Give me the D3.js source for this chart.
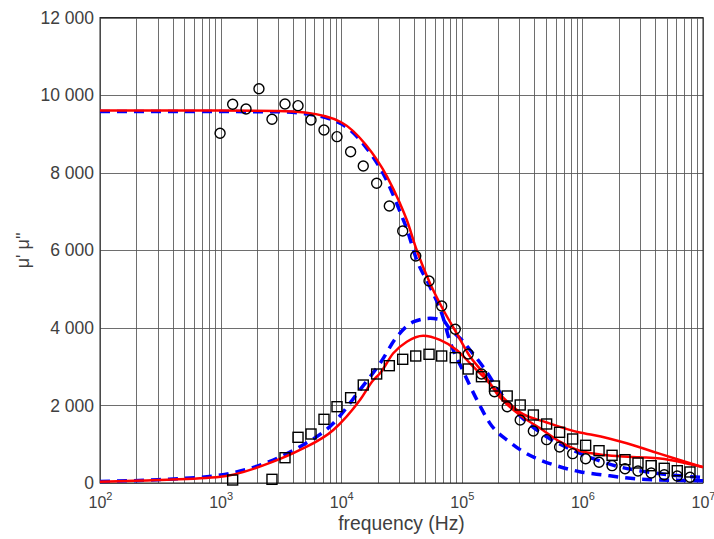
<!DOCTYPE html>
<html lang="en">
<head>
<meta charset="UTF-8">
<script src="https://cdnjs.cloudflare.com/ajax/libs/d3/7.8.5/d3.min.js"></script>
<style>
  body { margin: 0; background: #fff; }
  text { font-family: "Liberation Sans", Arial, sans-serif; fill: #404040; }
</style>
</head>
<body>
<svg id="chart" width="714" height="539"></svg>
<script>
// measured points (shared frequencies), null = no marker
const freq = [990, 1259, 1625, 2080, 2667, 3420, 4385, 5620, 7200, 9230,
  11970, 15240, 19680, 25060, 32360, 41500, 53500, 68100, 88300, 113000,
  145600, 186600, 238000, 305000, 392000, 505000, 647000, 830000, 1064000, 1374000,
  1762000, 2256000, 2890000, 3720000, 4770000, 6120000, 7800000];
const muReal = [9015, 9763, 9642, 10165, 9376, 9771, 9727, 9358, 9100, 8928,
  8541, 8172, 7726, 7141, 6497, 5852, 5207, 4563, 3962, 3326,
  2810, 2354, 1967, 1624, 1340, 1117, 928, 756, 627, 533,
  447, 369, 309, 258, 214, 180, 147];
const muImag = [null, 77, null, null, 95, 652, 1178, 1263, 1642, 1967,
  2199, 2526, 2810, 3024, 3189, 3274, 3318, 3274, 3231, 2939,
  2740, 2500, 2243, 2011, 1753, 1521, 1307, 1134, 972, 833,
  714, 601, 516, 446, 379, 317, 284];

// fitted curves (red solid)
const redRealF = [1e2, 1e3, 3e3, 5e3, 1e4, 1.6e4, 2.4e4, 3.07e4, 3.5e4, 4.23e4,
  5.45e4, 7.03e4, 9.07e4, 1.17e5, 1.51e5, 1.95e5, 3.04e5, 4.46e5, 6.5e5, 9.5e5,
  1.4e6, 2.05e6, 3e6, 4.4e6, 5.3e6, 7.9e6, 1e7];
const redRealV = [9600, 9600, 9590, 9550, 9300, 8720, 7900, 7210, 6780, 6000,
  5150, 4460, 3860, 3260, 2830, 2310, 1750, 1410, 1065, 830,
  735, 690, 662, 630, 593, 482, 410];
const redImagF = [1e2, 3e2, 1e3, 2.73e3, 4.55e3, 8.6e3, 1.43e4, 1.85e4, 2.1e4, 2.7e4,
  3.5e4, 4.79e4, 6.59e4, 9.07e4, 1.17e5, 1.51e5, 2e5, 3.04e5, 5.06e5, 9.5e5,
  1.23e6, 2.33e6, 3.87e6, 6.3e6, 1e7];
const redImagV = [35, 75, 160, 549, 851, 1366, 2140, 2655, 2828, 3344,
  3643, 3797, 3687, 3429, 3086, 2740, 2330, 1820, 1560, 1300,
  1237, 1023, 807, 600, 405];

// fitted curves (blue dashed)
const blueRealF = [1e2, 3e3, 5e3, 1e4, 1.6e4, 2.4e4, 3.07e4, 3.5e4, 4.23e4, 5.45e4,
  6.95e4, 7.9e4, 1.02e5, 1.41e5, 1.7e5, 2.51e5, 3.04e5, 4.46e5, 6.5e5, 9.5e5,
  1.5e6, 2.5e6, 3.9e6, 1e7];
const blueRealV = [9580, 9570, 9520, 9260, 8660, 7780, 7000, 6550, 5750, 5060,
  4290, 3690, 2900, 2000, 1550, 1050, 860, 593, 420, 291,
  206, 121, 85, 60];
const blueImagF = [1e2, 3e2, 1e3, 2.73e3, 4.55e3, 8.6e3, 1.43e4, 2.1e4, 2.9e4, 4e4,
  5.45e4, 6.9e4, 8e4, 1e5, 1.17e5, 1.5e5, 2.1e5, 3e5, 5.06e5, 8.5e5,
  1.3e6, 2e6, 3.2e6, 5e6, 1e7];
const blueImagV = [40, 85, 206, 593, 936, 1539, 2400, 3086, 3772, 4159,
  4245, 4202, 3960, 3687, 3429, 2998, 2312, 1750, 1194, 833,
  600, 420, 300, 220, 140];

const xTicks = [1e2, 1e3, 1e4, 1e5, 1e6, 1e7];
const yTicks = [0, 2000, 4000, 6000, 8000, 10000, 12000];

const svg = d3.select('#chart');
const mLeft = 100, mRight = 703, mTop = 17.5, mBottom = 483;

const x = d3.scaleLog().domain([1e2, 1e7]).range([mLeft, mRight]);
const y = d3.scaleLinear().domain([0, 12000]).range([mBottom, mTop]);

const fmt = d3.formatLocale({decimal: '.', thousands: ' ', grouping: [3], currency: ['', '']}).format(',d');

// grid
const grid = svg.append('g').attr('stroke', '#555').attr('stroke-opacity', 0.85).attr('stroke-width', 1);
grid.selectAll('.vg').data(x.ticks()).enter().append('line')
    .attr('x1', d => Math.round(x(d)) + 0.5).attr('x2', d => Math.round(x(d)) + 0.5)
    .attr('y1', mTop).attr('y2', mBottom);
grid.selectAll('.hg').data(yTicks).enter().append('line')
    .attr('x1', mLeft).attr('x2', mRight)
    .attr('y1', d => Math.round(y(d)) + 0.5).attr('y2', d => Math.round(y(d)) + 0.5);

// axes
const yAxis = svg.append('g').attr('transform', `translate(${mLeft},0)`)
    .call(d3.axisLeft(y).tickValues(yTicks).tickSize(0).tickPadding(6).tickFormat(fmt));
yAxis.select('.domain').remove();
yAxis.selectAll('text').style('font-size', '17.5px').attr('fill', '#404040');

const xAxis = svg.append('g').attr('transform', `translate(0,${mBottom})`)
    .call(d3.axisBottom(x).tickValues(xTicks).tickSize(0).tickFormat(() => ''));
xAxis.select('.domain').remove();
xAxis.selectAll('.tick').each(function (d) {
    const t = d3.select(this).select('text')
        .attr('y', 25).attr('dy', 0).attr('text-anchor', 'middle')
        .style('font-size', '16px').attr('fill', '#404040');
    t.append('tspan').text('10');
    t.append('tspan').attr('dy', -8).style('font-size', '11px').text(Math.round(Math.log10(d)));
});

svg.append('rect').attr('x', mLeft).attr('y', mTop).attr('width', mRight - mLeft).attr('height', mBottom - mTop)
    .attr('fill', 'none').attr('stroke', '#262626').attr('stroke-width', 1);

svg.append('text').attr('x', (mLeft + mRight) / 2).attr('y', 530).attr('text-anchor', 'middle')
    .style('font-size', '19.3px').text('frequency (Hz)');
svg.append('text').attr('transform', `translate(29,${(mTop + mBottom) / 2}) rotate(-90)`)
    .attr('text-anchor', 'middle').style('font-size', '18px').text("μ' μ''");

// curves
const line = d3.line().x(d => x(d[0])).y(d => y(d[1])).curve(d3.curveMonotoneX);
const plot = svg.append('g');

[[blueRealF, blueRealV], [blueImagF, blueImagV]].forEach(([f, v]) => {
    plot.append('path').datum(d3.zip(f, v)).attr('d', line)
        .attr('fill', 'none').attr('stroke', '#0000ff').attr('stroke-width', 3.5)
        .attr('stroke-dasharray', '10,7');
});
[[redRealF, redRealV], [redImagF, redImagV]].forEach(([f, v]) => {
    plot.append('path').datum(d3.zip(f, v)).attr('d', line)
        .attr('fill', 'none').attr('stroke', '#ff0000').attr('stroke-width', 2.5);
});

// markers
const pts = d3.zip(freq, muReal, muImag);
plot.selectAll('.circ').data(pts).enter().append('circle')
    .attr('cx', d => x(d[0])).attr('cy', d => y(d[1])).attr('r', 5)
    .attr('fill', 'none').attr('stroke', '#000').attr('stroke-width', 1.4);
plot.selectAll('.sq').data(pts.filter(d => d[2] !== null)).enter().append('rect')
    .attr('x', d => x(d[0]) - 5).attr('y', d => y(d[2]) - 5).attr('width', 10).attr('height', 10)
    .attr('fill', 'none').attr('stroke', '#000').attr('stroke-width', 1.4);
</script>
</body>
</html>
